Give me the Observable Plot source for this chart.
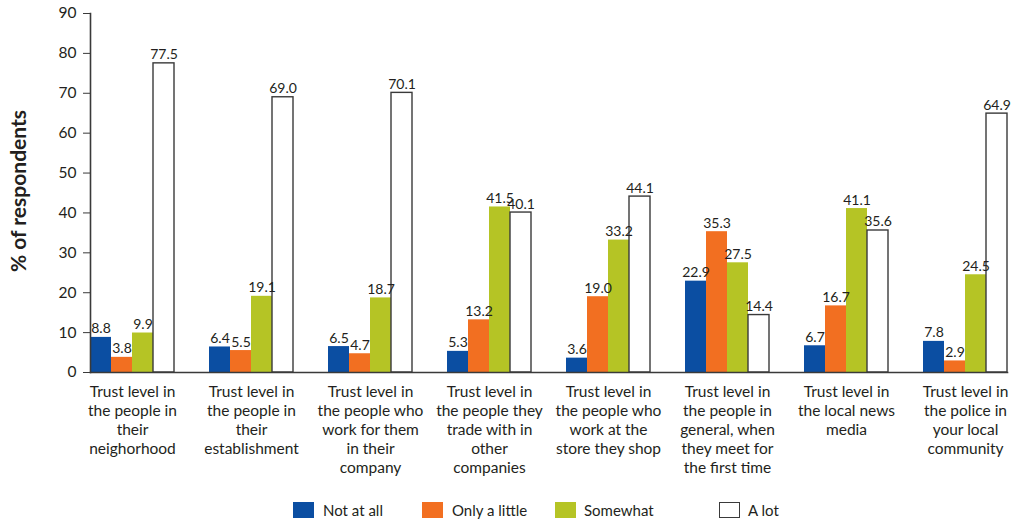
<!DOCTYPE html>
<html>
<head>
<meta charset="utf-8">
<script src="https://cdn.jsdelivr.net/npm/d3@7"></script>
<script src="https://cdn.jsdelivr.net/npm/@observablehq/plot@0.6"></script>
<style>
  html, body { margin: 0; padding: 0; background: #fff; }
  #wrap { position: relative; width: 1016px; height: 521px; font-family: Lato, "Open Sans", sans-serif; color: #231f20; }
  #ytitle { position: absolute; left: 17px; top: 191px; transform: translate(-50%, -50%) rotate(-90deg); font-weight: bold; font-size: 21px; white-space: nowrap; color: #231f20; }
  #legend { position: absolute; top: 501px; left: 0; width: 1016px; height: 18px; font-size: 15px; }
  .sw { position: absolute; top: 1px; width: 21px; height: 16px; box-sizing: border-box; }
  .lb { position: absolute; top: 0px; line-height: 18px; }
</style>
</head>
<body>
<div id="wrap">
  <div id="chart"></div>
  <div id="ytitle">% of respondents</div>
  <div id="legend"></div>
</div>
<script>
const categories = [
  "Trust level in\nthe people in\ntheir\nneighorhood",
  "Trust level in\nthe people in\ntheir\nestablishment",
  "Trust level in\nthe people who\nwork for them\nin their\ncompany",
  "Trust level in\nthe people they\ntrade with in\nother\ncompanies",
  "Trust level in\nthe people who\nwork at the\nstore they shop",
  "Trust level in\nthe people in\ngeneral, when\nthey meet for\nthe first time",
  "Trust level in\nthe local news\nmedia",
  "Trust level in\nthe police in\nyour local\ncommunity"
];
const seriesNames = ["Not at all", "Only a little", "Somewhat", "A lot"];
const notAtAll   = [8.8, 6.4, 6.5, 5.3, 3.6, 22.9, 6.7, 7.8];
const onlyALittle = [3.8, 5.5, 4.7, 13.2, 19.0, 35.3, 16.7, 2.9];
const somewhat   = [9.9, 19.1, 18.7, 41.5, 33.2, 27.5, 41.1, 24.5];
const aLot       = [77.5, 69.0, 70.1, 40.1, 44.1, 14.4, 35.6, 64.9];
const yTicks = [0, 10, 20, 30, 40, 50, 60, 70, 80, 90];
const fills = ["#0b4ea2", "#f26f21", "#b5c425", "#ffffff"];

const seriesValues = [notAtAll, onlyALittle, somewhat, aLot];
const data = [];
categories.forEach((c, i) => {
  seriesNames.forEach((s, j) => {
    data.push({category: c, series: s, value: seriesValues[j][i]});
  });
});

const chart = Plot.plot({
  width: 1016,
  height: 490,
  marginTop: 13,
  marginBottom: 118,
  marginLeft: 69,
  marginRight: 6,
  style: {fontFamily: "Lato, 'Open Sans', sans-serif", fontSize: "15px", color: "#231f20", background: "#fff"},
  fx: {domain: categories, range: [69, 1027.5], paddingInner: 0.295, paddingOuter: 0.168, label: null},
  x: {domain: seriesNames, padding: 0, axis: null},
  y: {domain: [0, 90], label: null},
  color: {domain: seriesNames, range: fills},
  marks: [
    Plot.barY(data, {fx: "category", x: "series", y: "value", fill: "series", stroke: d => d.series === "A lot" ? "#3a3a3a" : "none", strokeWidth: 1.4, inset: 0}),
    Plot.text(data, {fx: "category", x: "series", y: "value", text: d => d3.format(".1f")(d.value), lineAnchor: "bottom", dy: -4, fontSize: 14, fill: "#231f20"}),
    Plot.frame({anchor: "bottom", stroke: "#3a3a3a", strokeWidth: 1.6, facet: "super"}),
    Plot.frame({anchor: "left", stroke: "#3a3a3a", strokeWidth: 1.6, facet: "super"}),
    Plot.axisY({ticks: yTicks, tickSize: 7, tickPadding: 7, stroke: "#3a3a3a", strokeOpacity: 1, fontSize: 15.5, label: null, tickFormat: d => String(d)}),
    Plot.axisFx({anchor: "bottom", tickSize: 0, tickPadding: 11, lineHeight: 1.22, fontSize: 15.5, label: null, fill: "#231f20"})
  ]
});
document.getElementById("chart").appendChild(chart);

const legend = document.getElementById("legend");
const swX = [293, 422, 555, 719];
const lbX = [323, 452, 584, 748];
seriesNames.forEach((s, i) => {
  const sw = document.createElement("div");
  sw.className = "sw";
  sw.style.left = swX[i] + "px";
  sw.style.background = fills[i];
  if (i === 3) sw.style.border = "1.4px solid #3a3a3a";
  legend.appendChild(sw);
  const lb = document.createElement("div");
  lb.className = "lb";
  lb.style.left = lbX[i] + "px";
  lb.textContent = s;
  legend.appendChild(lb);
});
</script>
</body>
</html>
